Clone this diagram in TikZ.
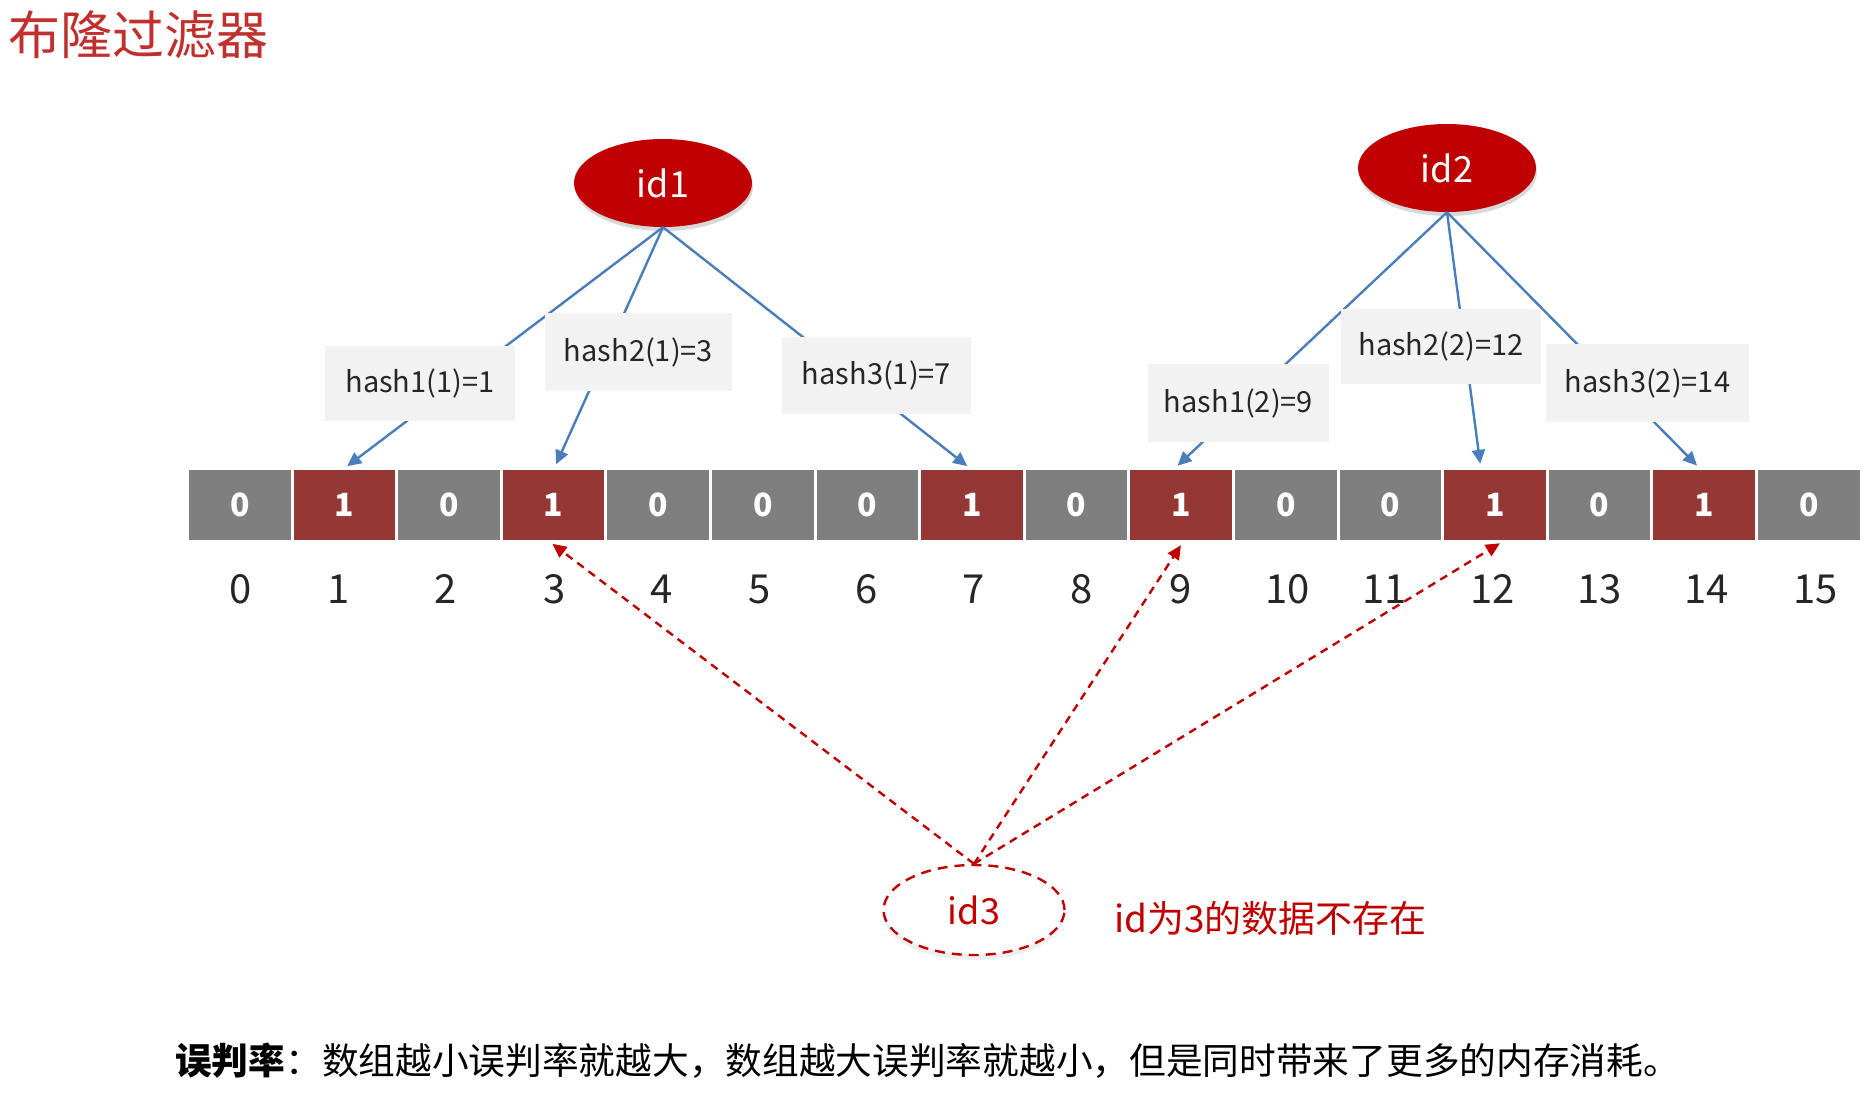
\documentclass[tikz,border=0pt]{standalone}
\usepackage{fontspec}
\setmainfont{Noto Sans CJK SC}
\usetikzlibrary{arrows.meta,shapes.geometric,shadows}
\definecolor{idred}{HTML}{C00000}
\definecolor{cellred}{HTML}{953735}
\definecolor{cellgray}{HTML}{7F7F7F}
\definecolor{boxgray}{HTML}{F2F2F2}
\definecolor{arrowblue}{HTML}{4A7EBB}
\definecolor{titlered}{HTML}{C0302E}
\definecolor{txt}{HTML}{262626}
\begin{document}
\begin{tikzpicture}[x=1pt,y=-1pt,
  cellbox/.style={rectangle, minimum width=101.6pt, minimum height=70pt, inner sep=0pt,
    text=white, font=\fontsize{32}{36}\selectfont\bfseries},
  idx/.style={font=\fontsize{40}{44}\selectfont, text=txt, inner sep=0pt},
  idnode/.style={ellipse, minimum width=178pt, minimum height=88pt, inner sep=0pt,
    fill=idred, text=white, font=\fontsize{36}{40}\selectfont,
    drop shadow={opacity=0.3, shadow xshift=1pt, shadow yshift=-4pt}},
  hashbox/.style={rectangle, fill=boxgray, inner sep=0pt, text=txt,
    font=\fontsize{29}{33}\selectfont},
  bluearrow/.style={draw=arrowblue, line width=2.4pt,
    -{Triangle[length=14pt,width=13pt]}, shorten >=6pt},
  redarrow/.style={draw=idred, line width=2.4pt, dash pattern=on 8pt off 6pt,
    -{Triangle[length=14pt,width=13pt]}, shorten >=6pt},
]
\useasboundingbox[fill=white] (0,0) rectangle (1869,1095);

% title
\node[anchor=west, inner sep=0pt, text=titlered, font=\fontsize{52}{56}\selectfont] (title) at (8,35) {布隆过滤器};

% array cells
\foreach \k/\v/\col in {0/0/cellgray,1/1/cellred,2/0/cellgray,3/1/cellred,4/0/cellgray,5/0/cellgray,6/0/cellgray,7/1/cellred,8/0/cellgray,9/1/cellred,10/0/cellgray,11/0/cellgray,12/1/cellred,13/0/cellgray,14/1/cellred,15/0/cellgray}{
  \node[cellbox, fill=\col] (c\k) at ({239.8+104.6*\k},505) {\v};
}
% indices
\foreach \k/\x in {0/240.8,1/338.5,2/445.8,3/554.3,4/661.6,5/759.3,6/866.6,7/973.9,8/1081.1,9/1180.1,10/1287.4,11/1384.7,12/1492.4,13/1599.7,14/1706.9,15/1815.4}{
  \node[idx] (n\k) at (\x,589) {\k};
}

% id ellipses
\node[idnode] (id1) at (663,183) {id1};
\node[idnode] (id2) at (1447,168) {id2};

% blue arrows (boxes drawn over them)
\draw[bluearrow] (id1.south) -- ([xshift=-2pt]c1.north);
\draw[bluearrow] (id1.south) -- (c3.north);
\draw[bluearrow] (id1.south) -- (c7.north);
\draw[bluearrow] (id2.south) -- ([xshift=-8pt]c9.north);
\draw[bluearrow] (id2.south) -- ([xshift=-14pt]c12.north);
\draw[bluearrow] (id2.south) -- ([xshift=-3pt]c14.north);

% hash boxes
\node[hashbox, minimum width=190pt, minimum height=75pt] (h11) at (420,383.5) {hash1(1)=1};
\node[hashbox, minimum width=187pt, minimum height=78pt] (h21) at (638.5,352) {hash2(1)=3};
\node[hashbox, minimum width=189pt, minimum height=77pt] (h31) at (876.5,375.5) {hash3(1)=7};
\node[hashbox, minimum width=181pt, minimum height=78pt] (h12) at (1238.5,403) {hash1(2)=9};
\node[hashbox, minimum width=200pt, minimum height=75pt] (h22) at (1441,346.5) {hash2(2)=12};
\node[hashbox, minimum width=203pt, minimum height=78pt] (h32) at (1647.5,383) {hash3(2)=14};

% id3 query
\node[ellipse, minimum width=181pt, minimum height=90pt, inner sep=0pt, fill=white,
  draw=idred, line width=2.4pt, dash pattern=on 10pt off 7pt, text=idred,
  font=\fontsize{36}{40}\selectfont,
  drop shadow={opacity=0.12, shadow xshift=0pt, shadow yshift=-5pt}] (id3) at (974,910) {id3};
\draw[redarrow] (id3.north) -- ([xshift=-6pt]c3.south);
\draw[redarrow] (id3.north) -- ([xshift=3pt]c9.south);
\draw[redarrow] (id3.north) -- ([xshift=10pt]c12.south);

\node[anchor=west, inner sep=0pt, text=idred, font=\fontsize{37}{40}\selectfont] (msg) at (1114,918) {id为3的数据不存在};

% bottom note
\node[anchor=west, inner sep=0pt, text=black, font=\fontsize{36.7}{40}\selectfont] (note) at (175,1061) {\textbf{误判率}：数组越小误判率就越大，数组越大误判率就越小，但是同时带来了更多的内存消耗。};
\end{tikzpicture}
\end{document}
